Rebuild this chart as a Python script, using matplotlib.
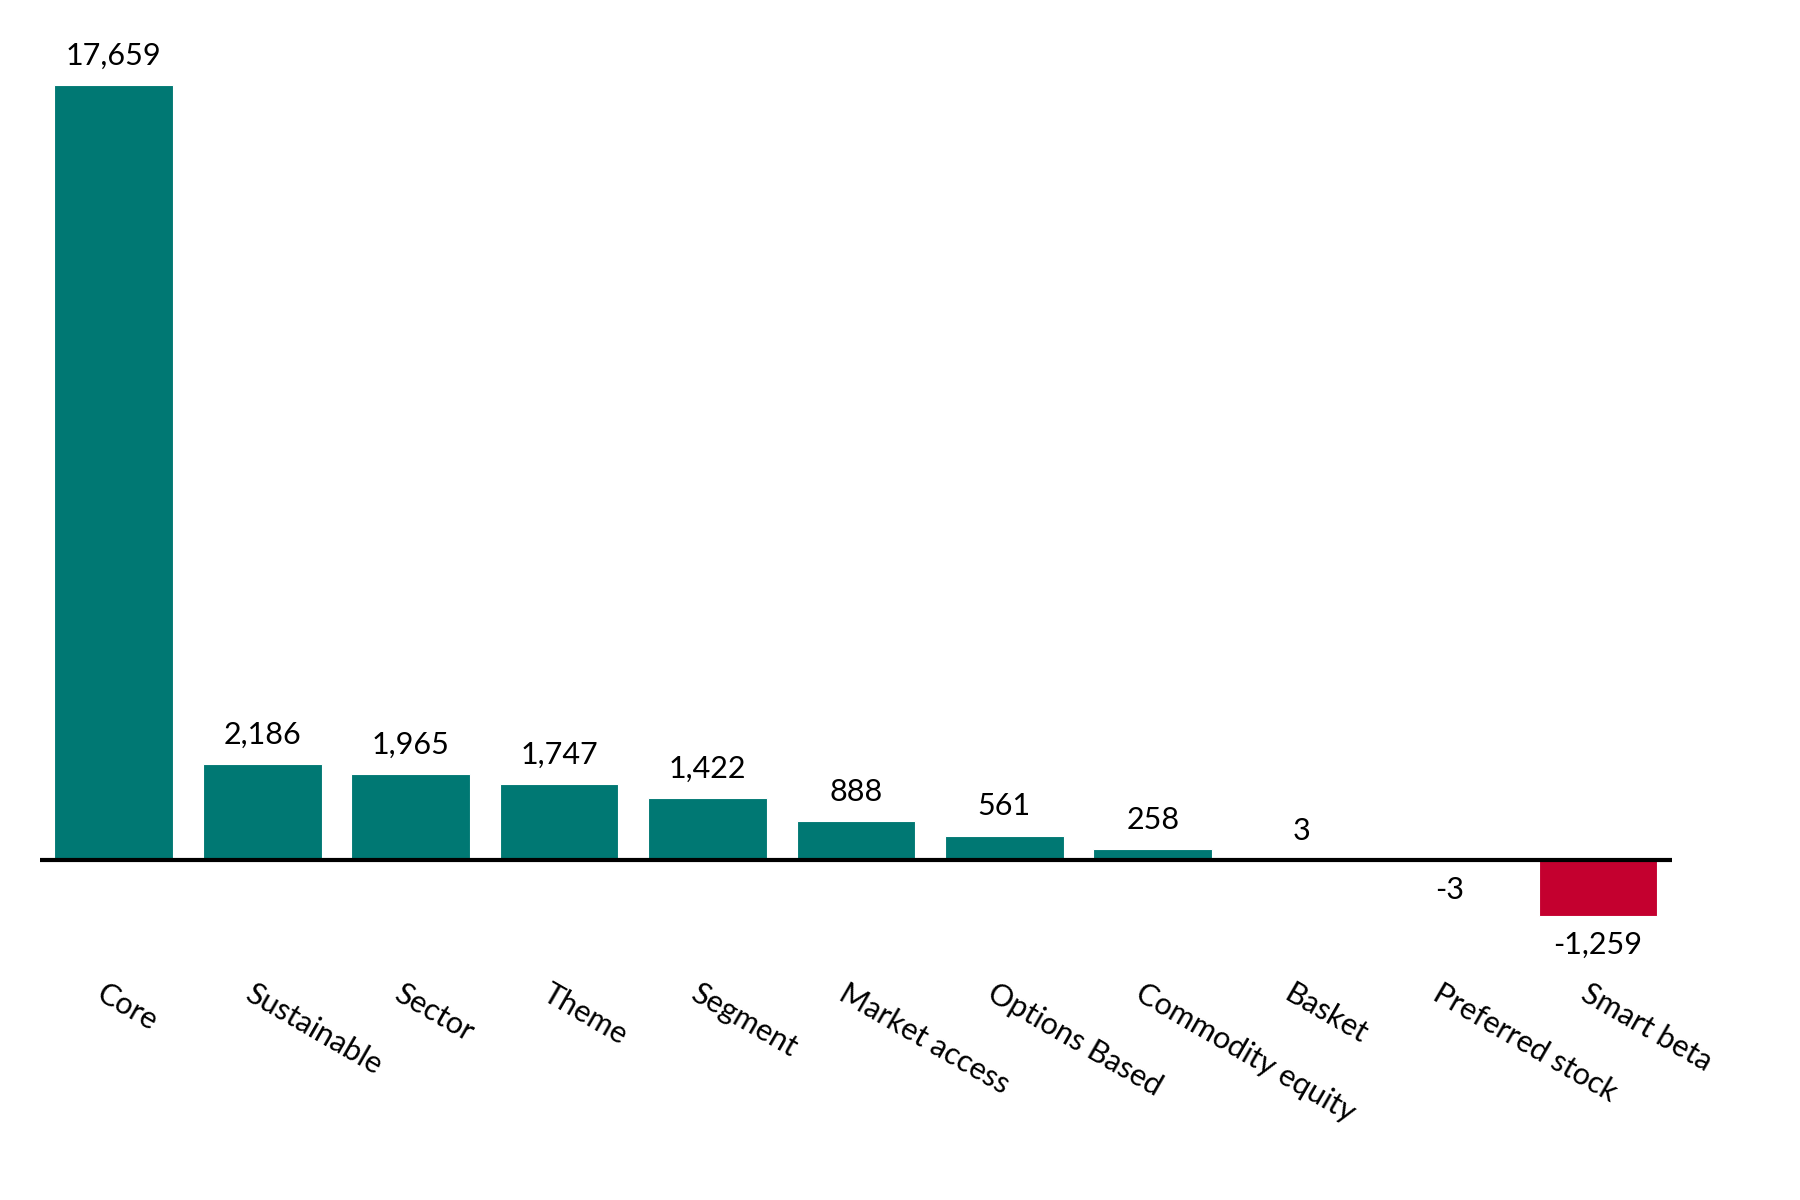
import matplotlib
matplotlib.use("Agg")
import matplotlib.pyplot as plt

categories = ["Core", "Sustainable", "Sector", "Theme", "Segment", "Market access",
              "Options Based", "Commodity equity", "Basket", "Preferred stock", "Smart beta"]
values = [17659, 2186, 1965, 1747, 1422, 888, 561, 258, 3, -3, -1259]
labels = ["17,659", "2,186", "1,965", "1,747", "1,422", "888", "561", "258", "3", "-3", "-1,259"]

plt.rcParams["font.family"] = "Lato"
fig = plt.figure(figsize=(18, 12), dpi=100)
ax = fig.add_axes([0.022, 0.05, 0.907, 0.90])
colors = ["#007873" if v > 0 else "#C4002F" for v in values]
colors[9] = "#C4002F"
x = list(range(len(values)))
ax.bar(x, values, width=0.8, color=colors, edgecolor="white", linewidth=0.8)
ax.axhline(0, color="black", linewidth=3, zorder=3)
ax.set_xlim(-0.5, 10.5)
ax.set_ylim(-6370, 18233)
ax.axis("off")
for xi, v, lab in zip(x, values, labels):
    if v >= 0:
        ax.text(xi, v + 350, lab, ha="center", va="bottom", fontsize=22)
    else:
        ax.text(xi, v - 350, lab, ha="center", va="top", fontsize=22)
    ax.text(xi - 0.05, -2700, categories[xi], rotation=-30, rotation_mode="anchor",
            ha="left", va="top", fontsize=22)
fig.savefig("out.png", dpi=100)
